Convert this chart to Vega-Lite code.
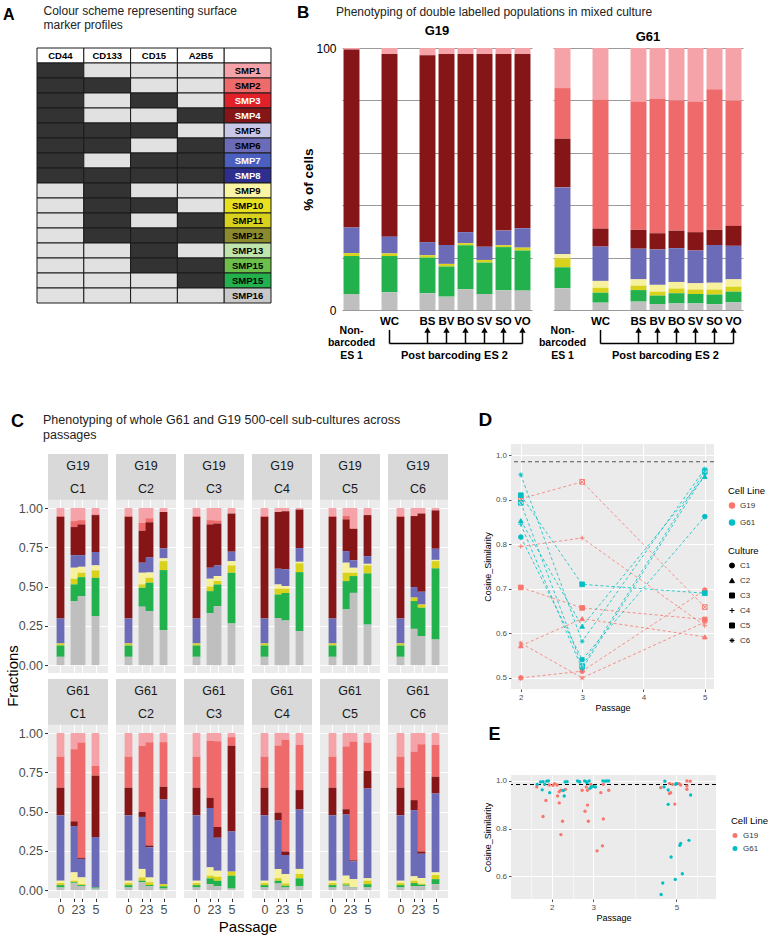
{
"$schema": "https://vega.github.io/schema/vega-lite/v6.json",
"background": "white",
"padding": {"left": 3, "top": 4, "right": 0, "bottom": 0},
"config": {
  "font": "Liberation Sans",
  "view": {"stroke": null},
  "title": {"font": "Liberation Sans", "color": "black", "fontWeight": "bold"},
  "axis": {"labelFont": "Liberation Sans", "titleFont": "Liberation Sans"},
  "header": {"titleFont": "Liberation Sans", "labelFont": "Liberation Sans"},
  "legend": {"labelFont": "Liberation Sans", "titleFont": "Liberation Sans", "titleFontSize": 9.5, "titleFontWeight": "normal", "titleColor": "black", "labelFontSize": 8, "labelColor": "#333", "symbolSize": 25, "rowPadding": 5, "titlePadding": 6}
},
"datasets": {
  "A": [
    {"r":0,"CD44":"hdr","CD133":"hdr","CD15":"hdr","A2B5":"hdr","SMP":"hdr","lab":""},
    {"r":1,"CD44":"pos","CD133":"neg","CD15":"neg","A2B5":"neg","SMP":"p01","lab":"SMP1"},
    {"r":2,"CD44":"pos","CD133":"pos","CD15":"neg","A2B5":"neg","SMP":"p02","lab":"SMP2"},
    {"r":3,"CD44":"pos","CD133":"neg","CD15":"pos","A2B5":"neg","SMP":"p03","lab":"SMP3"},
    {"r":4,"CD44":"pos","CD133":"neg","CD15":"neg","A2B5":"pos","SMP":"p04","lab":"SMP4"},
    {"r":5,"CD44":"pos","CD133":"pos","CD15":"pos","A2B5":"neg","SMP":"p05","lab":"SMP5"},
    {"r":6,"CD44":"pos","CD133":"pos","CD15":"neg","A2B5":"pos","SMP":"p06","lab":"SMP6"},
    {"r":7,"CD44":"pos","CD133":"neg","CD15":"pos","A2B5":"pos","SMP":"p07","lab":"SMP7"},
    {"r":8,"CD44":"pos","CD133":"pos","CD15":"pos","A2B5":"pos","SMP":"p08","lab":"SMP8"},
    {"r":9,"CD44":"neg","CD133":"pos","CD15":"neg","A2B5":"neg","SMP":"p09","lab":"SMP9"},
    {"r":10,"CD44":"neg","CD133":"pos","CD15":"pos","A2B5":"neg","SMP":"p10","lab":"SMP10"},
    {"r":11,"CD44":"neg","CD133":"pos","CD15":"neg","A2B5":"pos","SMP":"p11","lab":"SMP11"},
    {"r":12,"CD44":"neg","CD133":"pos","CD15":"pos","A2B5":"pos","SMP":"p12","lab":"SMP12"},
    {"r":13,"CD44":"neg","CD133":"neg","CD15":"pos","A2B5":"neg","SMP":"p13","lab":"SMP13"},
    {"r":14,"CD44":"neg","CD133":"neg","CD15":"pos","A2B5":"pos","SMP":"p14","lab":"SMP15"},
    {"r":15,"CD44":"neg","CD133":"neg","CD15":"neg","A2B5":"pos","SMP":"p15","lab":"SMP15"},
    {"r":16,"CD44":"neg","CD133":"neg","CD15":"neg","A2B5":"neg","SMP":"p16","lab":"SMP16"}
  ],
  "B": [
    {"g":"G19","cat":"NB","p16":6.1,"p15":14.5,"p11":1.1,"p09":0,"p06":9.8,"p04":67.9,"p02":0,"p01":0.6},
    {"g":"G19","cat":"WC","p16":6.8,"p15":13.8,"p11":1.0,"p09":0,"p06":6.4,"p04":69.7,"p02":0,"p01":2.3},
    {"g":"G19","cat":"BS","p16":6.4,"p15":13.6,"p11":0.9,"p09":0,"p06":5.0,"p04":71.3,"p02":0,"p01":2.8},
    {"g":"G19","cat":"BV","p16":5.1,"p15":11.5,"p11":1.0,"p09":0,"p06":7.2,"p04":72.9,"p02":0,"p01":2.3},
    {"g":"G19","cat":"BO","p16":7.9,"p15":16.8,"p11":0.8,"p09":0,"p06":4.2,"p04":68.0,"p02":0,"p01":2.3},
    {"g":"G19","cat":"SV","p16":6.1,"p15":12.0,"p11":1.0,"p09":0,"p06":5.0,"p04":73.6,"p02":0,"p01":2.3},
    {"g":"G19","cat":"SO","p16":7.5,"p15":16.5,"p11":0.7,"p09":0,"p06":5.6,"p04":67.4,"p02":0,"p01":2.3},
    {"g":"G19","cat":"VO","p16":7.4,"p15":15.3,"p11":1.1,"p09":0,"p06":7.4,"p04":66.5,"p02":0,"p01":2.3},
    {"g":"G61","cat":"NB","p16":8.3,"p15":8.0,"p11":3.4,"p09":1.6,"p06":25.5,"p04":18.6,"p02":19.3,"p01":15.3},
    {"g":"G61","cat":"WC","p16":2.8,"p15":3.8,"p11":1.9,"p09":2.6,"p06":13.1,"p04":6.9,"p02":49.2,"p01":19.7},
    {"g":"G61","cat":"BS","p16":3.2,"p15":4.4,"p11":1.7,"p09":2.4,"p06":11.7,"p04":7.2,"p02":49.0,"p01":20.4},
    {"g":"G61","cat":"BV","p16":2.3,"p15":3.2,"p11":1.5,"p09":2.6,"p06":13.5,"p04":6.2,"p02":51.3,"p01":19.4},
    {"g":"G61","cat":"BO","p16":2.5,"p15":3.9,"p11":1.8,"p09":2.5,"p06":12.9,"p04":6.7,"p02":49.7,"p01":20.0},
    {"g":"G61","cat":"SV","p16":2.5,"p15":3.6,"p11":1.7,"p09":2.4,"p06":12.5,"p04":7.0,"p02":49.9,"p01":20.4},
    {"g":"G61","cat":"SO","p16":2.2,"p15":3.7,"p11":1.9,"p09":2.6,"p06":14.4,"p04":5.8,"p02":53.7,"p01":15.7},
    {"g":"G61","cat":"VO","p16":2.9,"p15":4.1,"p11":1.9,"p09":2.8,"p06":12.8,"p04":7.6,"p02":47.8,"p01":20.1}
  ],
  "C": [
    {"L":"G19","C":"C1","P":0,"p16":0.053,"p15":0.072,"p11":0.013,"p09":0,"p06":0.159,"p04":0.646,"p02":0.007,"p01":0.05},
    {"L":"G19","C":"C1","P":2,"p16":0.408,"p15":0.106,"p11":0.036,"p09":0.07,"p06":0.08,"p04":0.179,"p02":0.038,"p01":0.083},
    {"L":"G19","C":"C1","P":3,"p16":0.44,"p15":0.12,"p11":0.028,"p09":0.038,"p06":0.074,"p04":0.196,"p02":0.027,"p01":0.077},
    {"L":"G19","C":"C1","P":5,"p16":0.312,"p15":0.244,"p11":0.047,"p09":0.032,"p06":0.085,"p04":0.235,"p02":0.005,"p01":0.04},
    {"L":"G19","C":"C2","P":0,"p16":0.053,"p15":0.072,"p11":0.013,"p09":0,"p06":0.159,"p04":0.646,"p02":0.007,"p01":0.05},
    {"L":"G19","C":"C2","P":2,"p16":0.372,"p15":0.121,"p11":0.021,"p09":0.074,"p06":0.064,"p04":0.203,"p02":0.05,"p01":0.095},
    {"L":"G19","C":"C2","P":3,"p16":0.344,"p15":0.18,"p11":0.032,"p09":0.034,"p06":0.095,"p04":0.225,"p02":0.025,"p01":0.065},
    {"L":"G19","C":"C2","P":5,"p16":0.223,"p15":0.382,"p11":0.057,"p09":0.018,"p06":0.063,"p04":0.232,"p02":0,"p01":0.025},
    {"L":"G19","C":"C3","P":0,"p16":0.053,"p15":0.072,"p11":0.013,"p09":0,"p06":0.159,"p04":0.646,"p02":0.007,"p01":0.05},
    {"L":"G19","C":"C3","P":2,"p16":0.33,"p15":0.141,"p11":0.029,"p09":0.05,"p06":0.07,"p04":0.276,"p02":0.027,"p01":0.077},
    {"L":"G19","C":"C3","P":3,"p16":0.376,"p15":0.138,"p11":0.021,"p09":0.032,"p06":0.068,"p04":0.267,"p02":0.018,"p01":0.08},
    {"L":"G19","C":"C3","P":5,"p16":0.265,"p15":0.323,"p11":0.047,"p09":0.027,"p06":0.06,"p04":0.243,"p02":0,"p01":0.035},
    {"L":"G19","C":"C4","P":0,"p16":0.053,"p15":0.072,"p11":0.013,"p09":0,"p06":0.159,"p04":0.646,"p02":0.007,"p01":0.05},
    {"L":"G19","C":"C4","P":2,"p16":0.30,"p15":0.15,"p11":0.036,"p09":0.028,"p06":0.10,"p04":0.361,"p02":0,"p01":0.025},
    {"L":"G19","C":"C4","P":3,"p16":0.284,"p15":0.176,"p11":0.026,"p09":0.017,"p06":0.107,"p04":0.37,"p02":0,"p01":0.02},
    {"L":"G19","C":"C4","P":5,"p16":0.217,"p15":0.375,"p11":0.056,"p09":0.01,"p06":0.087,"p04":0.245,"p02":0,"p01":0.01},
    {"L":"G19","C":"C5","P":0,"p16":0.053,"p15":0.072,"p11":0.013,"p09":0,"p06":0.159,"p04":0.646,"p02":0.007,"p01":0.05},
    {"L":"G19","C":"C5","P":2,"p16":0.355,"p15":0.18,"p11":0.053,"p09":0.064,"p06":0.074,"p04":0.202,"p02":0.022,"p01":0.05},
    {"L":"G19","C":"C5","P":3,"p16":0.46,"p15":0.107,"p11":0.021,"p09":0.032,"p06":0.047,"p04":0.201,"p02":0,"p01":0.132},
    {"L":"G19","C":"C5","P":5,"p16":0.258,"p15":0.326,"p11":0.051,"p09":0.01,"p06":0.049,"p04":0.261,"p02":0,"p01":0.045},
    {"L":"G19","C":"C6","P":0,"p16":0.053,"p15":0.072,"p11":0.013,"p09":0,"p06":0.159,"p04":0.646,"p02":0.007,"p01":0.05},
    {"L":"G19","C":"C6","P":2,"p16":0.231,"p15":0.177,"p11":0.022,"p09":0,"p06":0.067,"p04":0.452,"p02":0,"p01":0.051},
    {"L":"G19","C":"C6","P":3,"p16":0.185,"p15":0.18,"p11":0.021,"p09":0,"p06":0.081,"p04":0.499,"p02":0,"p01":0.034},
    {"L":"G19","C":"C6","P":5,"p16":0.163,"p15":0.453,"p11":0.046,"p09":0.008,"p06":0.071,"p04":0.244,"p02":0,"p01":0.015},
    {"L":"G61","C":"C1","P":0,"p16":0.017,"p15":0.015,"p11":0.013,"p09":0.015,"p06":0.416,"p04":0.176,"p02":0.198,"p01":0.15},
    {"L":"G61","C":"C1","P":2,"p16":0.043,"p15":0.007,"p11":0.01,"p09":0.053,"p06":0.295,"p04":0.03,"p02":0.459,"p01":0.103},
    {"L":"G61","C":"C1","P":3,"p16":0.024,"p15":0.008,"p11":0.006,"p09":0.043,"p06":0.118,"p04":0.006,"p02":0.735,"p01":0.06},
    {"L":"G61","C":"C1","P":5,"p16":0.01,"p15":0.007,"p11":0,"p09":0,"p06":0.321,"p04":0.391,"p02":0.061,"p01":0.21},
    {"L":"G61","C":"C2","P":0,"p16":0.017,"p15":0.015,"p11":0.013,"p09":0.015,"p06":0.416,"p04":0.176,"p02":0.198,"p01":0.15},
    {"L":"G61","C":"C2","P":2,"p16":0.05,"p15":0.01,"p11":0.021,"p09":0.054,"p06":0.331,"p04":0.032,"p02":0.421,"p01":0.081},
    {"L":"G61","C":"C2","P":3,"p16":0.024,"p15":0.008,"p11":0.018,"p09":0.031,"p06":0.192,"p04":0.011,"p02":0.658,"p01":0.058},
    {"L":"G61","C":"C2","P":5,"p16":0.01,"p15":0.014,"p11":0.014,"p09":0,"p06":0.539,"p04":0.081,"p02":0.284,"p01":0.058},
    {"L":"G61","C":"C3","P":0,"p16":0.017,"p15":0.015,"p11":0.013,"p09":0.015,"p06":0.416,"p04":0.176,"p02":0.198,"p01":0.15},
    {"L":"G61","C":"C3","P":2,"p16":0.038,"p15":0.037,"p11":0.017,"p09":0.053,"p06":0.378,"p04":0.065,"p02":0.363,"p01":0.049},
    {"L":"G61","C":"C3","P":3,"p16":0.024,"p15":0.036,"p11":0.025,"p09":0.039,"p06":0.209,"p04":0.069,"p02":0.545,"p01":0.053},
    {"L":"G61","C":"C3","P":5,"p16":0.01,"p15":0.082,"p11":0.026,"p09":0,"p06":0.256,"p04":0.545,"p02":0.055,"p01":0.026},
    {"L":"G61","C":"C4","P":0,"p16":0.017,"p15":0.015,"p11":0.013,"p09":0.015,"p06":0.416,"p04":0.176,"p02":0.198,"p01":0.15},
    {"L":"G61","C":"C4","P":2,"p16":0.043,"p15":0.017,"p11":0.015,"p09":0.06,"p06":0.309,"p04":0.05,"p02":0.427,"p01":0.079},
    {"L":"G61","C":"C4","P":3,"p16":0.017,"p15":0.011,"p11":0.015,"p09":0.06,"p06":0.121,"p04":0.022,"p02":0.711,"p01":0.043},
    {"L":"G61","C":"C4","P":5,"p16":0.024,"p15":0.051,"p11":0.028,"p09":0.032,"p06":0.378,"p04":0.124,"p02":0.288,"p01":0.075},
    {"L":"G61","C":"C5","P":0,"p16":0.017,"p15":0.015,"p11":0.013,"p09":0.015,"p06":0.416,"p04":0.176,"p02":0.198,"p01":0.15},
    {"L":"G61","C":"C5","P":2,"p16":0.028,"p15":0.007,"p11":0.01,"p09":0.047,"p06":0.389,"p04":0.034,"p02":0.40,"p01":0.085},
    {"L":"G61","C":"C5","P":3,"p16":0.017,"p15":0.003,"p11":0,"p09":0.05,"p06":0.114,"p04":0.006,"p02":0.754,"p01":0.056},
    {"L":"G61","C":"C5","P":5,"p16":0.017,"p15":0.021,"p11":0.022,"p09":0.015,"p06":0.572,"p04":0.112,"p02":0.181,"p01":0.06},
    {"L":"G61","C":"C6","P":0,"p16":0.017,"p15":0.015,"p11":0.013,"p09":0.015,"p06":0.416,"p04":0.176,"p02":0.198,"p01":0.15},
    {"L":"G61","C":"C6","P":2,"p16":0.024,"p15":0.021,"p11":0.015,"p09":0.028,"p06":0.421,"p04":0.064,"p02":0.309,"p01":0.118},
    {"L":"G61","C":"C6","P":3,"p16":0.024,"p15":0.01,"p11":0.006,"p09":0.037,"p06":0.154,"p04":0.015,"p02":0.683,"p01":0.071},
    {"L":"G61","C":"C6","P":5,"p16":0.038,"p15":0.032,"p11":0.026,"p09":0.017,"p06":0.502,"p04":0.107,"p02":0.203,"p01":0.075}
  ],
  "D": [
    {"L":"G19","C":"C1","P":2,"S":0.50},{"L":"G19","C":"C1","P":3,"S":0.515},{"L":"G19","C":"C1","P":5,"S":0.697},
    {"L":"G19","C":"C2","P":2,"S":0.572},{"L":"G19","C":"C2","P":3,"S":0.633},{"L":"G19","C":"C2","P":5,"S":0.592},
    {"L":"G19","C":"C3","P":2,"S":0.703},{"L":"G19","C":"C3","P":3,"S":0.657},{"L":"G19","C":"C3","P":5,"S":0.631},
    {"L":"G19","C":"C4","P":2,"S":0.795},{"L":"G19","C":"C4","P":3,"S":0.814},{"L":"G19","C":"C4","P":5,"S":0.617},
    {"L":"G19","C":"C5","P":2,"S":0.902},{"L":"G19","C":"C5","P":3,"S":0.94},{"L":"G19","C":"C5","P":5,"S":0.659},
    {"L":"G19","C":"C6","P":2,"S":0.578},{"L":"G19","C":"C6","P":3,"S":0.50},{"L":"G19","C":"C6","P":5,"S":0.625},
    {"L":"G61","C":"C1","P":2,"S":0.816},{"L":"G61","C":"C1","P":3,"S":0.541},{"L":"G61","C":"C1","P":5,"S":0.862},
    {"L":"G61","C":"C2","P":2,"S":0.853},{"L":"G61","C":"C2","P":3,"S":0.616},{"L":"G61","C":"C2","P":5,"S":0.952},
    {"L":"G61","C":"C3","P":2,"S":0.91},{"L":"G61","C":"C3","P":3,"S":0.71},{"L":"G61","C":"C3","P":5,"S":0.69},
    {"L":"G61","C":"C4","P":2,"S":0.845},{"L":"G61","C":"C4","P":3,"S":0.52},{"L":"G61","C":"C4","P":5,"S":0.957},
    {"L":"G61","C":"C5","P":2,"S":0.893},{"L":"G61","C":"C5","P":3,"S":0.526},{"L":"G61","C":"C5","P":5,"S":0.964},
    {"L":"G61","C":"C6","P":2,"S":0.956},{"L":"G61","C":"C6","P":3,"S":0.582},{"L":"G61","C":"C6","P":5,"S":0.969}
  ],
  "E": [
    {"L":"G19","P":1.64,"S":0.975},{"L":"G19","P":1.94,"S":0.983},{"L":"G19","P":1.86,"S":0.918},{"L":"G19","P":1.79,"S":0.851},
    {"L":"G19","P":2.07,"S":0.989},{"L":"G19","P":2.13,"S":0.983},{"L":"G19","P":2.18,"S":0.955},{"L":"G19","P":2.22,"S":0.961},
    {"L":"G19","P":2.14,"S":0.937},{"L":"G19","P":2.18,"S":0.908},{"L":"G19","P":2.26,"S":0.831},{"L":"G19","P":2.22,"S":0.775},
    {"L":"G19","P":2.33,"S":0.965},{"L":"G19","P":2.03,"S":0.982},
    {"L":"G19","P":2.67,"S":0.997},{"L":"G19","P":2.73,"S":0.961},{"L":"G19","P":2.83,"S":0.975},{"L":"G19","P":2.86,"S":0.961},
    {"L":"G19","P":2.80,"S":0.873},{"L":"G19","P":2.86,"S":0.899},{"L":"G19","P":2.88,"S":0.831},{"L":"G19","P":2.94,"S":0.986},
    {"L":"G19","P":3.09,"S":0.707},{"L":"G19","P":3.22,"S":0.728},{"L":"G19","P":3.24,"S":0.841},{"L":"G19","P":3.18,"S":0.951},
    {"L":"G19","P":3.37,"S":0.961},{"L":"G19","P":3.24,"S":0.986},
    {"L":"G19","P":4.62,"S":0.972},{"L":"G19","P":4.83,"S":0.99},{"L":"G19","P":4.91,"S":0.986},{"L":"G19","P":5.06,"S":0.989},
    {"L":"G19","P":5.10,"S":0.983},{"L":"G19","P":5.25,"S":1.0},{"L":"G19","P":5.33,"S":0.999},{"L":"G19","P":5.25,"S":0.979},
    {"L":"G19","P":5.25,"S":0.965},{"L":"G19","P":4.83,"S":0.947},{"L":"G19","P":4.86,"S":0.951},{"L":"G19","P":4.96,"S":0.903},
    {"L":"G61","P":1.65,"S":0.986},{"L":"G61","P":1.73,"S":0.996},{"L":"G61","P":1.79,"S":0.997},{"L":"G61","P":1.83,"S":0.986},
    {"L":"G61","P":1.88,"S":0.999},{"L":"G61","P":1.92,"S":1.0},{"L":"G61","P":1.77,"S":0.963},{"L":"G61","P":1.95,"S":0.951},
    {"L":"G61","P":2.30,"S":0.937},{"L":"G61","P":2.32,"S":0.996},{"L":"G61","P":2.37,"S":0.997},{"L":"G61","P":2.28,"S":0.96},
    {"L":"G61","P":2.62,"S":1.0},{"L":"G61","P":2.67,"S":0.996},{"L":"G61","P":2.79,"S":1.0},{"L":"G61","P":2.83,"S":0.997},
    {"L":"G61","P":2.85,"S":0.993},{"L":"G61","P":2.90,"S":1.0},{"L":"G61","P":2.92,"S":0.969},{"L":"G61","P":2.95,"S":0.975},
    {"L":"G61","P":3.0,"S":0.977},{"L":"G61","P":3.05,"S":0.975},{"L":"G61","P":3.23,"S":1.0},{"L":"G61","P":3.28,"S":0.999},
    {"L":"G61","P":3.32,"S":1.0},{"L":"G61","P":3.37,"S":1.0},
    {"L":"G61","P":4.72,"S":0.999},{"L":"G61","P":4.70,"S":0.975},{"L":"G61","P":4.80,"S":0.962},{"L":"G61","P":4.98,"S":0.986},
    {"L":"G61","P":5.0,"S":0.99},{"L":"G61","P":5.34,"S":0.941},{"L":"G61","P":4.80,"S":0.902},{"L":"G61","P":5.30,"S":0.751},
    {"L":"G61","P":5.10,"S":0.738},{"L":"G61","P":5.08,"S":0.73},{"L":"G61","P":4.87,"S":0.681},{"L":"G61","P":5.14,"S":0.611},
    {"L":"G61","P":4.97,"S":0.587},{"L":"G61","P":4.67,"S":0.572},{"L":"G61","P":4.63,"S":0.524}
  ]
},
"resolve": {"scale": {"color": "independent", "fill": "independent", "stroke": "independent", "shape": "independent"}},
"columns": 1,
"align": "none",
"spacing": 49,
"concat": [
  {
    "columns": 2, "align": "none", "spacing": 25,
    "resolve": {"scale": {"color": "independent", "fill": "independent"}},
    "concat": [
      {
        "columns": 2, "align": "none", "spacing": -13,
        "concat": [
          {"width": 1, "height": 1, "data": {"values": [{}]}, "mark": {"type": "point", "opacity": 0, "size": 0}, "encoding": {},
           "title": {"text": "A", "anchor": "start", "dx": -45, "fontSize": 16, "offset": 25}},
          {
            "width": 234, "height": 255,
            "title": {"text": ["Colour scheme representing surface", "marker profiles"], "anchor": "start", "dx": 7, "fontSize": 12, "lineHeight": 13.5, "fontWeight": "normal", "color": "#222", "offset": 16},
            "data": {"name": "A"},
            "transform": [{"fold": ["CD44","CD133","CD15","A2B5","SMP"], "as": ["col","val"]}],
            "encoding": {
              "x": {"field": "col", "type": "nominal", "sort": ["CD44","CD133","CD15","A2B5","SMP"], "axis": null, "scale": {"paddingInner": 0, "paddingOuter": 0}},
              "y": {"field": "r", "type": "ordinal", "axis": null}
            },
            "layer": [
              {"mark": {"type": "rect", "stroke": "#1a1a1a", "strokeWidth": 1},
               "encoding": {"fill": {"field": "val", "type": "nominal", "legend": null,
                 "scale": {"domain": ["hdr","pos","neg","p01","p02","p03","p04","p05","p06","p07","p08","p09","p10","p11","p12","p13","p14","p15","p16"],
                           "range": ["#ffffff","#333333","#e1e1e1","#f5a3a8","#ef6a6a","#e0212a","#861517","#c9c7e7","#6b6bb8","#4b5fc1","#2e2e8e","#faf5a2","#e8e11f","#d9d21c","#8b8a2c","#bfe5ac","#6cc04a","#22b14c","#c9c9c9"]}}}},
              {"transform": [{"filter": "datum.r == 0 && datum.col != 'SMP'"}],
               "mark": {"type": "text", "fontSize": 9.5, "fontWeight": "bold", "color": "black"},
               "encoding": {"text": {"field": "col"}}},
              {"transform": [{"filter": "datum.r > 0 && datum.col == 'SMP'"}],
               "mark": {"type": "text", "fontSize": 9.5, "fontWeight": "bold"},
               "encoding": {"text": {"field": "lab"}, "fill": {"condition": {"test": "indexof(['p03','p04','p07','p08'], datum.val) >= 0", "value": "white"}, "value": "black"}}}
            ]
          }
        ]
      },
      {
        "columns": 2, "align": "none", "spacing": -9,
        "concat": [
          {"width": 1, "height": 1, "data": {"values": [{}]}, "mark": {"type": "point", "opacity": 0, "size": 0}, "encoding": {},
           "title": {"text": "B", "anchor": "start", "fontSize": 17, "offset": 26}},
          {
            "title": {"text": "Phenotyping of double labelled populations in mixed culture", "anchor": "start", "dx": 34, "fontSize": 12, "fontWeight": "normal", "color": "#222", "offset": 6},
            "spacing": 6,
            "hconcat": [
              {
                "width": 190, "height": 262,
                "title": {"text": "G19", "fontSize": 13, "fontWeight": "bold", "offset": 4},
                "layer": [
                  {"data": {"name": "B"},
                   "transform": [{"filter": "datum.g == 'G19'"}, {"fold": ["p01","p02","p04","p06","p09","p11","p15","p16"], "as": ["key","v"]}],
                   "mark": "bar",
                   "encoding": {
                     "x": {"field": "cat", "type": "nominal", "scale": {"domain": ["NB","s1","WC","s2","BS","BV","BO","SV","SO","VO"], "paddingInner": 0.16, "paddingOuter": 0.08},
                           "axis": {"title": null, "labelExpr": "indexof(['NB','s1','s2'], datum.value) >= 0 ? '' : datum.value", "labelAngle": 0, "labelFontWeight": "bold", "labelFontSize": 11.5, "labelColor": "black", "ticks": false, "domain": false, "labelPadding": 5}},
                     "y": {"field": "v", "type": "quantitative", "stack": "zero", "scale": {"domain": [0, 100], "nice": false},
                           "axis": {"values": [0,10,20,30,40,50,60,70,80,90,100], "labelExpr": "datum.value % 50 == 0 ? datum.label : ''", "grid": true, "gridColor": "#8f8f8f", "gridWidth": 0.9, "ticks": false, "domain": false, "title": "% of cells", "titleFontSize": 13.5, "titleFontWeight": "bold", "titleColor": "black", "labelFontSize": 12, "labelColor": "black", "labelPadding": 6, "titlePadding": 0}},
                     "color": {"field": "key", "type": "nominal", "legend": null, "scale": {"domain": ["p01","p02","p04","p06","p09","p11","p15","p16"], "range": ["#f5a3a8","#ef6a6a","#861517","#6b6bb8","#f7f09c","#d9d21c","#22b14c","#bfbfbf"]}},
                     "order": {"field": "key", "sort": "descending"}
                   }},
                  {"data": {"values": [{}]}, "mark": {"type": "rule", "color": "black", "strokeWidth": 1.5},
                   "encoding": {"x": {"datum": "WC"}, "y": {"datum": -7.6}, "y2": {"datum": -12.8}}},
                  {"data": {"values": [{}]}, "mark": {"type": "rule", "color": "black", "strokeWidth": 1.5},
                   "encoding": {"x": {"datum": "WC"}, "x2": {"datum": "VO"}, "y": {"datum": -12.8}}},
                  {"data": {"values": [{"cat":"BS"},{"cat":"BV"},{"cat":"BO"},{"cat":"SV"},{"cat":"SO"},{"cat":"VO"}]},
                   "mark": {"type": "rule", "color": "black", "strokeWidth": 1.5},
                   "encoding": {"x": {"field": "cat", "type": "nominal"}, "y": {"datum": -8.5}, "y2": {"datum": -12.8}}},
                  {"data": {"values": [{"cat":"BS"},{"cat":"BV"},{"cat":"BO"},{"cat":"SV"},{"cat":"SO"},{"cat":"VO"}]},
                   "mark": {"type": "point", "shape": "triangle-up", "filled": true, "color": "black", "size": 40, "opacity": 1},
                   "encoding": {"x": {"field": "cat", "type": "nominal"}, "y": {"datum": -7.6}}},
                  {"data": {"values": [{}]}, "mark": {"type": "text", "lineBreak": "\n", "fontWeight": "bold", "fontSize": 10.5, "lineHeight": 12.5, "baseline": "middle"},
                   "encoding": {"x": {"datum": "NB"}, "y": {"datum": -8.0}, "text": {"value": "Non-\nbarcoded\nES 1"}}},
                  {"data": {"values": [{}]}, "mark": {"type": "text", "fontWeight": "bold", "fontSize": 11, "baseline": "middle"},
                   "encoding": {"x": {"datum": "BV", "bandPosition": 1}, "y": {"datum": -17.4}, "text": {"value": "Post barcoding ES 2"}}}
                ]
              },
              {
                "width": 190, "height": 262,
                "title": {"text": "G61", "fontSize": 13, "fontWeight": "bold", "offset": 4},
                "layer": [
                  {"data": {"name": "B"},
                   "transform": [{"filter": "datum.g == 'G61'"}, {"fold": ["p01","p02","p04","p06","p09","p11","p15","p16"], "as": ["key","v"]}],
                   "mark": "bar",
                   "encoding": {
                     "x": {"field": "cat", "type": "nominal", "scale": {"domain": ["NB","s1","WC","s2","BS","BV","BO","SV","SO","VO"], "paddingInner": 0.16, "paddingOuter": 0.08},
                           "axis": {"title": null, "labelExpr": "indexof(['NB','s1','s2'], datum.value) >= 0 ? '' : datum.value", "labelAngle": 0, "labelFontWeight": "bold", "labelFontSize": 11.5, "labelColor": "black", "ticks": false, "domain": false, "labelPadding": 5}},
                     "y": {"field": "v", "type": "quantitative", "stack": "zero", "scale": {"domain": [0, 100], "nice": false},
                           "axis": {"values": [0,10,20,30,40,50,60,70,80,90,100], "labels": false, "grid": true, "gridColor": "#8f8f8f", "gridWidth": 0.9, "ticks": false, "domain": false, "title": null, "minExtent": 0}},
                     "color": {"field": "key", "type": "nominal", "legend": null, "scale": {"domain": ["p01","p02","p04","p06","p09","p11","p15","p16"], "range": ["#f5a3a8","#ef6a6a","#861517","#6b6bb8","#f7f09c","#d9d21c","#22b14c","#bfbfbf"]}},
                     "order": {"field": "key", "sort": "descending"}
                   }},
                  {"data": {"values": [{}]}, "mark": {"type": "rule", "color": "black", "strokeWidth": 1.5},
                   "encoding": {"x": {"datum": "WC"}, "y": {"datum": -7.6}, "y2": {"datum": -12.8}}},
                  {"data": {"values": [{}]}, "mark": {"type": "rule", "color": "black", "strokeWidth": 1.5},
                   "encoding": {"x": {"datum": "WC"}, "x2": {"datum": "VO"}, "y": {"datum": -12.8}}},
                  {"data": {"values": [{"cat":"BS"},{"cat":"BV"},{"cat":"BO"},{"cat":"SV"},{"cat":"SO"},{"cat":"VO"}]},
                   "mark": {"type": "rule", "color": "black", "strokeWidth": 1.5},
                   "encoding": {"x": {"field": "cat", "type": "nominal"}, "y": {"datum": -8.5}, "y2": {"datum": -12.8}}},
                  {"data": {"values": [{"cat":"BS"},{"cat":"BV"},{"cat":"BO"},{"cat":"SV"},{"cat":"SO"},{"cat":"VO"}]},
                   "mark": {"type": "point", "shape": "triangle-up", "filled": true, "color": "black", "size": 40, "opacity": 1},
                   "encoding": {"x": {"field": "cat", "type": "nominal"}, "y": {"datum": -7.6}}},
                  {"data": {"values": [{}]}, "mark": {"type": "text", "lineBreak": "\n", "fontWeight": "bold", "fontSize": 10.5, "lineHeight": 12.5, "baseline": "middle"},
                   "encoding": {"x": {"datum": "NB"}, "y": {"datum": -8.0}, "text": {"value": "Non-\nbarcoded\nES 1"}}},
                  {"data": {"values": [{}]}, "mark": {"type": "text", "fontWeight": "bold", "fontSize": 11, "baseline": "middle"},
                   "encoding": {"x": {"datum": "BV", "bandPosition": 1}, "y": {"datum": -17.4}, "text": {"value": "Post barcoding ES 2"}}}
                ]
              }
            ]
          }
        ]
      }
    ]
  },
  {
    "columns": 2, "align": "none", "spacing": 30,
    "resolve": {"scale": {"color": "independent", "stroke": "independent", "shape": "independent"}},
    "concat": [
      {
        "columns": 1, "align": "none", "spacing": 9,
        "concat": [
          {
            "columns": 2, "align": "none", "spacing": -6,
            "concat": [
              {"width": 1, "height": 1, "data": {"values": [{}]}, "mark": {"type": "point", "opacity": 0, "size": 0}, "encoding": {},
               "title": {"text": "C", "anchor": "start", "dx": -37, "fontSize": 18, "offset": 13}},
              {"width": 1, "height": 1, "data": {"values": [{}]}, "mark": {"type": "point", "opacity": 0, "size": 0}, "encoding": {},
               "title": {"text": ["Phenotyping of whole G61 and G19 500-cell sub-cultures across", "passages"], "anchor": "start", "fontSize": 12.5, "lineHeight": 15, "fontWeight": "normal", "color": "#222", "offset": 3}}
            ]
          },
          {
            "data": {"name": "C"},
            "transform": [{"fold": ["p01","p02","p04","p06","p09","p11","p15","p16"], "as": ["key","v"]}],
            "facet": {
              "row": {"field": "L", "type": "nominal", "title": "Fractions", "sort": ["G19","G61"], "header": {"labels": false, "labelPadding": 0, "titleFontSize": 15, "titleFontWeight": "normal", "titleColor": "black", "titlePadding": -13}},
              "column": {"field": "C", "type": "nominal", "title": "Passage", "sort": ["C1","C2","C3","C4","C5","C6"], "header": {"labels": false, "labelPadding": 0, "titleOrient": "bottom", "titleFontSize": 15, "titleFontWeight": "normal", "titleColor": "black", "titlePadding": -6}}
            },
            "spacing": {"row": 6, "column": 8},
            "spec": {
              "width": 60, "height": 219,
              "view": {"fill": "#ebebeb", "stroke": null},
              "layer": [
                {"mark": {"type": "bar", "size": 7.8},
                 "encoding": {
                   "x": {"field": "P", "type": "quantitative", "scale": {"domain": [-1.07, 6.07], "nice": false, "zero": false},
                         "axis": {"values": [0,2,3,5], "title": null, "labelOverlap": false, "labelFlush": false, "labelFontSize": 12.5, "labelColor": "#4d4d4d", "tickColor": "#333", "tickSize": 3.5, "domain": false, "grid": true, "gridColor": "white", "gridWidth": 1.1, "labelPadding": 2}},
                   "y": {"field": "v", "type": "quantitative", "stack": "zero", "scale": {"domain": [-0.05, 1.344], "nice": false, "zero": false},
                         "axis": {"values": [0,0.125,0.25,0.375,0.5,0.625,0.75,0.875,1], "labelExpr": "(datum.value*4) % 1 == 0 ? format(datum.value, '.2f') : ''", "gridWidth": {"condition": {"test": "(datum.value*4) % 1 != 0", "value": 0.5}, "value": 1.1}, "tickOpacity": {"condition": {"test": "(datum.value*4) % 1 != 0", "value": 0}, "value": 1}, "title": null, "labelOverlap": false, "labelFontSize": 12.5, "labelColor": "#4d4d4d", "tickColor": "#333", "tickSize": 3.5, "domain": false, "grid": true, "gridColor": "white", "labelPadding": 2}},
                   "color": {"field": "key", "type": "nominal", "legend": null, "scale": {"domain": ["p01","p02","p04","p06","p09","p11","p15","p16"], "range": ["#f5a3a8","#ef6a6a","#861517","#6b6bb8","#f7f09c","#d9d21c","#22b14c","#bfbfbf"]}},
                   "order": {"field": "key", "sort": "descending"}
                 }},
                {"transform": [{"aggregate": [{"op": "count", "as": "n"}], "groupby": ["L","C"]}],
                 "mark": {"type": "rect", "color": "#d9d9d9"},
                 "encoding": {"y": {"datum": 1.053}, "y2": {"datum": 1.344}}},
                {"transform": [{"aggregate": [{"op": "mean", "field": "P", "as": "Pm"}], "groupby": ["L","C"]}],
                 "mark": {"type": "text", "fontSize": 12.5, "color": "#1a1a1a"},
                 "encoding": {"x": {"field": "Pm", "type": "quantitative",
                         "axis": {"values": [0,2,3,5], "title": null, "labelOverlap": false, "labelFlush": false, "labelFontSize": 12.5, "labelColor": "#4d4d4d", "tickColor": "#333", "tickSize": 3.5, "domain": false, "grid": true, "gridColor": "white", "gridWidth": 1.1, "labelPadding": 2}},
                              "y": {"datum": 1.268}, "text": {"field": "L"}}},
                {"transform": [{"aggregate": [{"op": "mean", "field": "P", "as": "Pm"}], "groupby": ["L","C"]}],
                 "mark": {"type": "text", "fontSize": 12.5, "color": "#1a1a1a"},
                 "encoding": {"x": {"field": "Pm", "type": "quantitative",
                         "axis": {"values": [0,2,3,5], "title": null, "labelOverlap": false, "labelFlush": false, "labelFontSize": 12.5, "labelColor": "#4d4d4d", "tickColor": "#333", "tickSize": 3.5, "domain": false, "grid": true, "gridColor": "white", "gridWidth": 1.1, "labelPadding": 2}},
                              "y": {"datum": 1.121}, "text": {"field": "C"}}}
              ]
            }
          }
        ]
      },
      {
        "spacing": 13,
        "resolve": {"scale": {"color": "independent", "stroke": "independent", "shape": "independent"}},
        "vconcat": [
          {
            "width": 203, "height": 245,
            "title": {"text": "D", "anchor": "start", "fontSize": 19, "dx": -5, "offset": 14},
            "view": {"fill": "#ebebeb", "stroke": null},
            "layer": [
              {"data": {"values": [{}]}, "mark": {"type": "rule", "color": "#555", "strokeDash": [4,3], "strokeWidth": 1.1},
               "encoding": {"y": {"datum": 0.985}}},
              {"data": {"name": "D"}, "mark": {"type": "line", "strokeDash": [3,2.5], "strokeWidth": 0.8},
               "encoding": {
                 "x": {"field": "P", "type": "quantitative", "scale": {"domain": [1.84, 5.15], "nice": false, "zero": false},
                       "axis": {"values": [2,2.5,3,3.5,4,4.5,5], "labelExpr": "datum.value % 1 == 0 ? format(datum.value, 'd') : ''", "labelOverlap": false, "grid": true, "gridColor": "white", "gridWidth": {"condition": {"test": "datum.value % 1 != 0", "value": 0.5}, "value": 1}, "tickOpacity": {"condition": {"test": "datum.value % 1 != 0", "value": 0}, "value": 1}, "tickColor": "#555", "tickSize": 2.5, "domain": false, "labelFontSize": 8, "labelColor": "#4d4d4d", "title": "Passage", "titleFontSize": 9, "titleFontWeight": "normal", "titleColor": "black", "labelPadding": 2, "titlePadding": 2}},
                 "y": {"field": "S", "type": "quantitative", "scale": {"domain": [0.475, 1.025], "nice": false, "zero": false},
                       "axis": {"values": [0.5,0.55,0.6,0.65,0.7,0.75,0.8,0.85,0.9,0.95,1.0], "labelExpr": "abs(datum.value*10 - round(datum.value*10)) < 0.001 ? format(datum.value, '.1f') : ''", "labelOverlap": false, "grid": true, "gridColor": "white", "gridWidth": {"condition": {"test": "abs(datum.value*10 - round(datum.value*10)) > 0.001", "value": 0.5}, "value": 1}, "tickOpacity": {"condition": {"test": "abs(datum.value*10 - round(datum.value*10)) > 0.001", "value": 0}, "value": 1}, "tickColor": "#555", "tickSize": 2.5, "domain": false, "labelFontSize": 8, "labelColor": "#4d4d4d", "title": "Cosine_Similarity", "titleFontSize": 9, "titleFontWeight": "normal", "titleColor": "black", "labelPadding": 2, "titlePadding": 3}},
                 "color": {"field": "L", "type": "nominal", "scale": {"domain": ["G19","G61"], "range": ["#F8766D","#00BFC4"]},
                           "legend": {"title": "Cell Line", "orient": "none", "legendX": 217, "legendY": 42}},
                 "detail": {"field": "C"}
               }},
              {"data": {"name": "D"}, "mark": {"type": "point", "filled": true, "opacity": 1, "size": 22, "strokeWidth": 0.9},
               "encoding": {
                 "x": {"field": "P", "type": "quantitative"},
                 "y": {"field": "S", "type": "quantitative"},
                 "color": {"field": "L", "type": "nominal", "scale": {"domain": ["G19","G61"], "range": ["#F8766D","#00BFC4"]}},
                 "stroke": {"field": "L", "type": "nominal", "scale": {"domain": ["G19","G61"], "range": ["#F8766D","#00BFC4"]}, "legend": null},
                 "shape": {"field": "C", "type": "nominal",
                           "scale": {"domain": ["C1","C2","C3","C4","C5","C6"], "range": ["circle","triangle-up","square","M-1,0H1M0,-1V1","M-1,-1H1V1H-1ZM-1,-1L1,1M1,-1L-1,1","M-1,0H1M0,-1V1M-0.7,-0.7L0.7,0.7M0.7,-0.7L-0.7,0.7"]},
                           "legend": {"title": "Culture", "orient": "none", "legendX": 217, "legendY": 102, "symbolStrokeColor": "black", "symbolFillColor": "black", "symbolStrokeWidth": 1}},
                 "fillOpacity": {"condition": {"test": "datum.C == 'C5'", "value": 0}, "value": 1}
               }}
            ]
          },
          {
            "width": 205, "height": 124,
            "title": {"text": "E", "anchor": "start", "fontSize": 18, "dx": 5, "offset": 31},
            "view": {"fill": "#ebebeb", "stroke": null},
            "layer": [
              {"data": {"values": [{}]}, "mark": {"type": "rule", "color": "black", "strokeDash": [4,3], "strokeWidth": 1.1},
               "encoding": {"y": {"datum": 0.985}}},
              {"data": {"name": "E"}, "mark": {"type": "point", "filled": true, "opacity": 1, "size": 11},
               "encoding": {
                 "x": {"field": "P", "type": "quantitative", "scale": {"domain": [1.02, 5.95], "nice": false, "zero": false},
                       "axis": {"values": [1.5,2,2.5,3,4,5,5.5], "labelExpr": "indexof([2,3,5], datum.value) >= 0 ? format(datum.value, 'd') : ''", "labelOverlap": false, "grid": true, "gridColor": "white", "gridWidth": {"condition": {"test": "indexof([2,3,5], datum.value) < 0", "value": 0.5}, "value": 1}, "tickOpacity": {"condition": {"test": "indexof([2,3,5], datum.value) < 0", "value": 0}, "value": 1}, "tickColor": "#555", "tickSize": 2.5, "domain": false, "labelFontSize": 8, "labelColor": "#4d4d4d", "title": "Passage", "titleFontSize": 9, "titleFontWeight": "normal", "titleColor": "black", "labelPadding": 2, "titlePadding": 2}},
                 "y": {"field": "S", "type": "quantitative", "scale": {"domain": [0.505, 1.025], "nice": false, "zero": false},
                       "axis": {"values": [0.6,0.7,0.8,0.9,1.0], "format": ".1f", "labelOverlap": false, "grid": true, "gridColor": "white", "gridWidth": 1, "tickColor": "#555", "tickSize": 2.5, "domain": false, "labelFontSize": 8, "labelColor": "#4d4d4d", "title": "Cosine_Similarity", "titleFontSize": 9, "titleFontWeight": "normal", "titleColor": "black", "labelPadding": 2, "titlePadding": 3}},
                 "color": {"field": "L", "type": "nominal", "scale": {"domain": ["G19","G61"], "range": ["#F8766D","#00BFC4"]},
                           "legend": {"title": "Cell Line", "orient": "none", "legendX": 220, "legendY": 41}}
               }}
            ]
          }
        ]
      }
    ]
  }
]
}
